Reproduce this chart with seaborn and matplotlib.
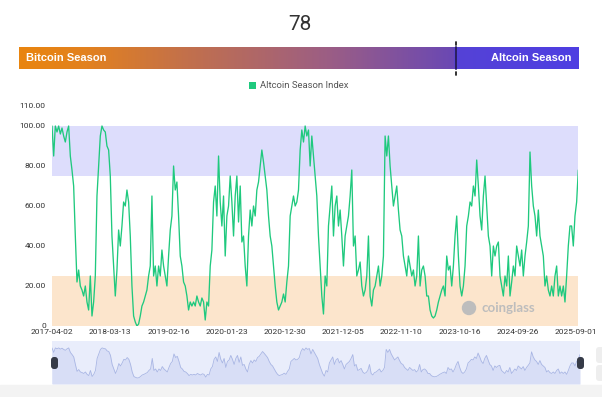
import numpy as np
import pandas as pd
import matplotlib
matplotlib.use("Agg")
import matplotlib.pyplot as plt
import seaborn as sns
from matplotlib.colors import LinearSegmentedColormap
from matplotlib.patches import Rectangle, FancyBboxPatch, Patch, Circle
from matplotlib.lines import Line2D
from matplotlib.transforms import IdentityTransform

# ---------------- data ----------------
index_2017_2020 = [
    100, 85, 100, 97, 100, 96, 99, 95, 92, 97,
    100, 85, 78, 70, 45, 22, 28, 20, 18, 15,
    20, 12, 8, 25, 5, 12, 25, 65, 80, 95,
    100, 98, 97, 90, 88, 75, 45, 30, 15, 28,
    48, 40, 50, 62, 60, 68, 62, 45, 20, 5,
    2, 0, 1, 5, 10, 12, 15, 18, 25, 30,
    65, 25, 30, 20, 30, 25, 38, 30, 25, 20,
    35, 48, 55, 80, 68, 72, 55, 35, 30, 22,
    20, 15, 8, 12, 10, 12, 10, 15, 12, 10,
    14, 12, 3, 12, 10, 30, 38, 62, 70, 55,
    85, 62, 50, 65, 35, 55, 60, 75, 62, 45,
    65, 75, 52, 70, 42, 45, 30, 20, 45, 58,
    50, 60, 55, 68, 72, 80, 88, 82, 75, 68,
    55, 45, 40, 30, 20, 12, 8, 10, 12, 16,
    12, 22, 30, 55, 60, 65, 60, 62, 68, 88,
]
index_2021_2025 = [
    98, 92, 100, 95, 98, 80, 95, 85, 75, 65,
    45, 30, 15, 6, 25, 20, 50, 60, 70, 45,
    60, 65, 50, 58, 45, 30, 45, 50, 55, 65,
    78, 40, 45, 25, 28, 32, 20, 15, 18, 25,
    45, 15, 10, 18, 20, 25, 30, 20, 25, 35,
    95, 85, 95, 80, 70, 60, 65, 70, 58, 48,
    45, 35, 30, 25, 35, 30, 25, 28, 20, 25,
    45, 20, 28, 30, 25, 15, 15, 8, 5, 4,
    5, 8, 12, 15, 18, 20, 15, 35, 28, 30,
    20, 30, 45, 55, 35, 20, 15, 20, 30, 50,
    55, 62, 60, 70, 65, 83, 70, 55, 48, 65,
    75, 60, 45, 40, 25, 40, 35, 40, 42, 25,
    20, 15, 25, 20, 35, 15, 22, 30, 25, 40,
    35, 30, 38, 25, 35, 42, 50, 87, 70, 60,
    55, 45, 58, 45, 40, 35, 20, 25, 18, 15,
    20, 15, 25, 30, 15, 20, 15, 20, 12, 25,
    40, 50, 50, 40, 55, 62, 78,
]
tick_labels = ["2017-04-02", "2018-03-13", "2019-02-16", "2020-01-23", "2020-12-30",
               "2021-12-05", "2022-11-10", "2023-10-16", "2024-09-26", "2025-09-01"]
y_ticks = [0, 20, 40, 60, 80, 100, 110]
y_tick_labels = ["0", "20.00", "40.00", "60.00", "80.00", "100.00", "110.00"]
current_value = 78
bitcoin_band = (0, 25)
altcoin_band = (75, 100)
series_name = "Altcoin Season Index"

values = index_2017_2020 + index_2021_2025
df = pd.DataFrame({"day": np.arange(len(values)), "index": values})
N = len(values)

# ---------------- style ----------------
sns.set_style("white")
plt.rcParams["font.family"] = ["Roboto", "DejaVu Sans"]

W, H = 602, 397
fig = plt.figure(figsize=(W / 100, H / 100), dpi=100)
fig.patch.set_facecolor("white")


def fx(px):
    return px / W


def fy(py):
    return 1 - py / H


GREEN = "#1FC97E"

# ---------------- main chart ----------------
ax = fig.add_axes([fx(52), fy(326), fx(578.3) - fx(52), fy(106) - fy(326)])
ax.axhspan(*bitcoin_band, color="#FCE5CC", lw=0, zorder=0)
ax.axhspan(*altcoin_band, color="#DDDDFC", lw=0, zorder=0)
sns.lineplot(data=df, x="day", y="index", ax=ax, color=GREEN, lw=0.95, zorder=3)
ax.set_xlim(0, N - 1)
ax.set_ylim(0, 110)
ax.set_xlabel("")
ax.set_ylabel("")
for sp in ax.spines.values():
    sp.set_visible(False)
tick_pos = [k * (N - 1) * (524 / 526.3) / 9 for k in range(len(tick_labels))]
ax.set_xticks(tick_pos)
ax.set_xticklabels(tick_labels, fontsize=6, color="#333333")
ax.set_yticks(y_ticks)
ax.set_yticklabels(y_tick_labels, fontsize=6, color="#333333")
ax.tick_params(axis="both", length=0)
ax.tick_params(axis="x", pad=2.5)
ax.tick_params(axis="y", pad=4.5)
ax.grid(False)

# watermark
fig.text(fx(481), fy(308), "coinglass", fontsize=9.5, color="#BDBDBD",
         fontweight="bold", family=["Lato", "DejaVu Sans"], ha="left", va="center")
fig.add_artist(Circle((469, H - 308), 6.5, color="#BDBDBD", transform=IdentityTransform()))

# ---------------- gradient bar ----------------
axb = fig.add_axes([fx(19), fy(69.3), fx(579) - fx(19), fy(47.3) - fy(69.3)])
cmap = LinearSegmentedColormap.from_list(
    "season",
    [(0.0, "#E9850F"), (0.12, "#E2811F"), (0.3, "#C2704C"), (0.55, "#9C5E84"),
     (0.779, "#6A48B4"), (0.781, "#5542D6"), (1.0, "#4E3EE2")])
axb.imshow(np.linspace(0, 1, 600).reshape(1, -1), aspect="auto", cmap=cmap,
           extent=[0, 100, 0, 1])
axb.set_xlim(0, 100)
axb.set_ylim(0, 1)
axb.set_axis_off()
axb.text(1.3, 0.5, "Bitcoin Season", color="white", fontsize=8, fontweight="bold",
         ha="left", va="center", family=["Liberation Sans", "DejaVu Sans"])
axb.text(98.6, 0.5, "Altcoin Season", color="white", fontsize=8, fontweight="bold",
         ha="right", va="center", family=["Liberation Sans", "DejaVu Sans"])
# current-value marker: solid through the bar, short ticks above and below
axb.add_line(Line2D([current_value, current_value], [0, 1], color="#2A1F5E",
                    lw=1.4, clip_on=False))
axb.add_line(Line2D([current_value, current_value], [1.1, 1.25], color="#222222",
                    lw=1.3, clip_on=False))
axb.add_line(Line2D([current_value, current_value], [-0.1, -0.26], color="#222222",
                    lw=1.3, clip_on=False))

fig.text(fx(299.5), fy(25), str(current_value), fontsize=15, color="#333333",
         ha="center", va="center")

# legend
fig.legend(handles=[Patch(facecolor=GREEN, edgecolor="none")], labels=[series_name],
           loc="center", bbox_to_anchor=(fx(299), fy(86)), frameon=False,
           fontsize=6.8, handlelength=0.7, handleheight=0.7, handletextpad=0.45,
           labelcolor="#555555")

# ---------------- bottom slider ----------------
fig.add_artist(Rectangle((0, 0), W, 12, color="#F3F3F3", transform=IdentityTransform(), zorder=0))
axs = fig.add_axes([fx(52), fy(384), fx(580) - fx(52), fy(341) - fy(384)])
axs.set_facecolor("#E9EDFB")
axs.fill_between(df["day"], df["index"], -20, color="#D8DEF6", lw=0)
sns.lineplot(data=df, x="day", y="index", ax=axs, color="#A9B6E4", lw=0.6)
axs.set_xlim(0, N - 1)
axs.set_ylim(-20, 123)
axs.set_xticks([])
axs.set_yticks([])
axs.set_xlabel("")
axs.set_ylabel("")
for sp in axs.spines.values():
    sp.set_visible(False)
for cx in (54.5, 580.5):
    fig.add_artist(FancyBboxPatch((cx - 3.5, H - 369), 7, 12,
                                  boxstyle="round,pad=0,rounding_size=3",
                                  facecolor="#363B48", edgecolor="none",
                                  transform=IdentityTransform(), zorder=5))
for y0 in (347, 365):
    fig.add_artist(FancyBboxPatch((596, H - y0 - 16), 10, 16,
                                  boxstyle="round,pad=0,rounding_size=3",
                                  facecolor="#EEEEEE", edgecolor="none",
                                  transform=IdentityTransform(), zorder=1))

fig.savefig("out.png", dpi=100)
